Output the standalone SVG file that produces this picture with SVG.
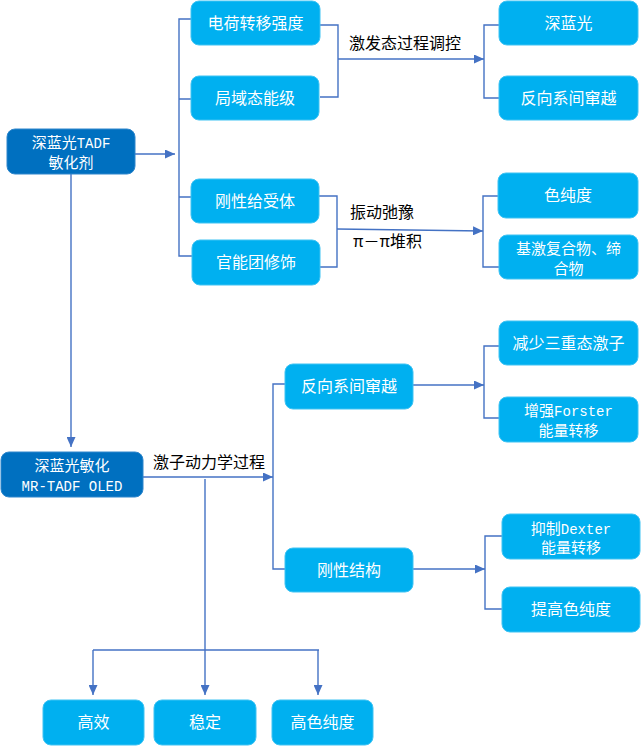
<svg xmlns="http://www.w3.org/2000/svg" width="641" height="746" viewBox="0 0 641 746">
<defs>
<style>
.lb{fill:#00B0F0;stroke:#3EC3F3;stroke-width:1}
.db{fill:#0070C0;stroke:#2E86CC;stroke-width:1}
.t{font-family:"Noto Sans CJK SC","Liberation Sans",sans-serif;font-size:16px;fill:#FFFFFF;text-anchor:middle}
.t2{font-size:15px}
.m{font-family:"Liberation Mono","Noto Sans CJK SC",monospace;font-size:14px}
.k{font-family:"Noto Sans CJK SC","Liberation Sans",sans-serif;font-size:16px;fill:#000000}
.c{fill:none;stroke:#4472C4;stroke-width:1.4}
</style>
<marker id="ah" markerUnits="userSpaceOnUse" markerWidth="10" markerHeight="9" refX="10" refY="4.5" orient="auto">
<path d="M0,0 L10,4.5 L0,9 z" fill="#4472C4"/>
</marker>
</defs>
<rect width="641" height="746" fill="#FFFFFF"/>
<g id="connectors">
<path class="c" d="M191,19 H179 V256 H192 M179,99 H191 M179,197 H191"/>
<path class="c" d="M135,154 H175" marker-end="url(#ah)"/>
<path class="c" d="M71,174 V447" marker-end="url(#ah)"/>
<path class="c" d="M320,25 H338 V97 H320"/>
<path class="c" d="M338,59 H484" marker-end="url(#ah)"/>
<path class="c" d="M499,25 H484 V98 H499"/>
<path class="c" d="M319,196 H337 V267 H320"/>
<path class="c" d="M337,229 L483,231" marker-end="url(#ah)"/>
<path class="c" d="M498,196 H483 V267 H499"/>
<path class="c" d="M143,477 H273" marker-end="url(#ah)"/>
<path class="c" d="M285,384 H273 V569 H285"/>
<path class="c" d="M413,385 H484" marker-end="url(#ah)"/>
<path class="c" d="M499,346 H484 V418 H499"/>
<path class="c" d="M413,569 H485" marker-end="url(#ah)"/>
<path class="c" d="M502,536 H485 V609 H502"/>
<path class="c" d="M205,479 V695" marker-end="url(#ah)"/>
<path class="c" d="M93,650 H319"/>
<path class="c" d="M93,650 V695" marker-end="url(#ah)"/>
<path class="c" d="M318,650 V695" marker-end="url(#ah)"/>
</g>
<g id="label-jifa"><text class="k" x="349" y="49">激发态过程调控</text></g>
<g id="label-zhendong"><text class="k" x="350" y="218">振动弛豫</text></g>
<g id="label-pipi"><text class="k" x="353" y="247">π－π堆积</text></g>
<g id="label-jizi"><text class="k" x="153" y="468">激子动力学过程</text></g>
<g id="n-tadf"><rect class="db" x="7" y="129" width="128" height="45" rx="8"/><text class="t t2" x="71" y="147.5">深蓝光<tspan class="m">TADF</tspan><tspan x="71" dy="20">敏化剂</tspan></text></g>
<g id="n-dianhe"><rect class="lb" x="191" y="1" width="129" height="44" rx="8"/><text class="t" x="255.5" y="29">电荷转移强度</text></g>
<g id="n-juyu"><rect class="lb" x="191" y="76" width="128" height="44" rx="8"/><text class="t" x="255" y="104">局域态能级</text></g>
<g id="n-gangxing"><rect class="lb" x="191" y="179" width="128" height="44" rx="8"/><text class="t" x="255" y="207">刚性给受体</text></g>
<g id="n-guanneng"><rect class="lb" x="192" y="240" width="128" height="45" rx="8"/><text class="t" x="256" y="268">官能团修饰</text></g>
<g id="n-shenlan"><rect class="lb" x="499" y="1" width="139" height="44" rx="8"/><text class="t" x="568.5" y="29">深蓝光</text></g>
<g id="n-fanxiang1"><rect class="lb" x="499" y="76" width="139" height="44" rx="8"/><text class="t" x="568.5" y="104">反向系间窜越</text></g>
<g id="n-sechun"><rect class="lb" x="498" y="173" width="140" height="45" rx="8"/><text class="t" x="568" y="201">色纯度</text></g>
<g id="n-jiji"><rect class="lb" x="499" y="235" width="139" height="44" rx="8"/><text class="t t2" x="568.5" y="253.5">基激复合物、缔<tspan x="568.5" dy="20">合物</tspan></text></g>
<g id="n-mr"><rect class="db" x="1" y="452" width="142" height="45" rx="8"/><text class="t t2" x="72" y="470.5">深蓝光敏化<tspan x="72" dy="20" class="m">MR-TADF OLED</tspan></text></g>
<g id="n-fanxiang2"><rect class="lb" x="285" y="364" width="128" height="45" rx="8"/><text class="t" x="349" y="392">反向系间窜越</text></g>
<g id="n-gangjie"><rect class="lb" x="285" y="548" width="128" height="44" rx="8"/><text class="t" x="349" y="576">刚性结构</text></g>
<g id="n-jianshao"><rect class="lb" x="499" y="321" width="139" height="44" rx="8"/><text class="t" x="568.5" y="349">减少三重态激子</text></g>
<g id="n-forster"><rect class="lb" x="499" y="397" width="139" height="45" rx="8"/><text class="t t2" x="568.5" y="415.5">增强<tspan class="m">Forster</tspan><tspan x="568.5" dy="20">能量转移</tspan></text></g>
<g id="n-dexter"><rect class="lb" x="502" y="514" width="138" height="45" rx="8"/><text class="t t2" x="571" y="533.5">抑制<tspan class="m">Dexter</tspan><tspan x="571" dy="19.5">能量转移</tspan></text></g>
<g id="n-tigao"><rect class="lb" x="502" y="587" width="138" height="45" rx="8"/><text class="t" x="571" y="615">提高色纯度</text></g>
<g id="n-gaoxiao"><rect class="lb" x="43" y="700" width="101" height="45" rx="8"/><text class="t" x="93.5" y="728">高效</text></g>
<g id="n-wending"><rect class="lb" x="154" y="700" width="102" height="45" rx="8"/><text class="t" x="205" y="728">稳定</text></g>
<g id="n-gaose"><rect class="lb" x="272" y="700" width="101" height="45" rx="8"/><text class="t" x="322.5" y="728">高色纯度</text></g>
</svg>
